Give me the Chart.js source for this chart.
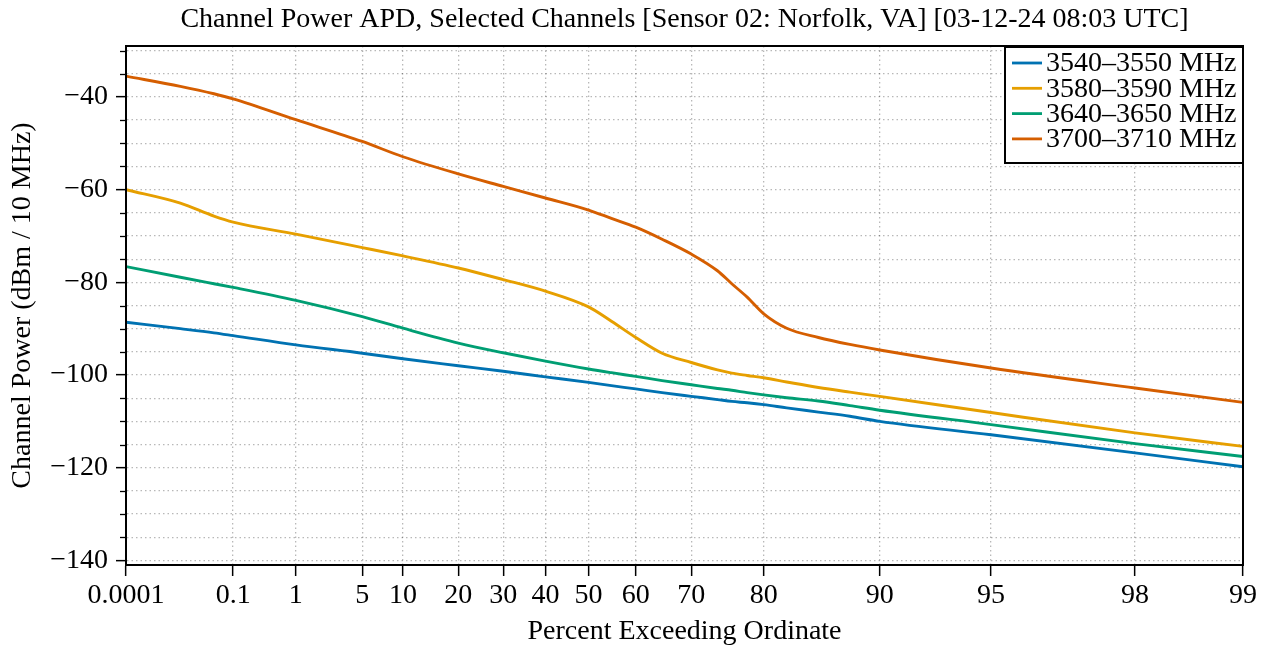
<!DOCTYPE html>
<html>
<head>
<meta charset="utf-8">
<script src="https://cdn.jsdelivr.net/npm/chart.js@4.4.1/dist/chart.umd.min.js"></script>
<style>
  html, body { margin: 0; padding: 0; background: #fff; }
</style>
</head>
<body>
<canvas id="apdChart" width="1267" height="648"></canvas>
<script>
// percent exceeding ordinate, shared by all four channels
const percentPoints = [0.0001, 0.006, 0.04, 0.1, 1, 5, 10, 20, 30, 40, 50, 55, 60, 65, 70, 74, 76, 78, 80, 82.5, 85.5, 88, 90, 95, 98, 99];

const channelLabels = ['3540\u20133550 MHz', '3580\u20133590 MHz', '3640\u20133650 MHz', '3700\u20133710 MHz'];
const channelColors = ['#0072B2', '#E69F00', '#009E73', '#D55E00'];

// channel power, dBm / 10 MHz
const power3540 = [-88.6, -90.0, -90.9, -91.5, -93.5, -95.3, -96.5, -98.0, -99.2, -100.4, -101.6, -102.3, -103.0, -103.8, -104.6, -105.3, -105.7, -106.0, -106.4, -107.1, -108.0, -108.9, -110.0, -112.9, -116.8, -119.8];
const power3580 = [-60.0, -62.9, -65.7, -67.0, -69.6, -72.5, -74.3, -76.9, -79.4, -81.9, -85.3, -88.4, -91.9, -95.3, -97.3, -98.9, -99.6, -100.1, -100.6, -101.5, -102.7, -103.7, -104.6, -108.1, -112.5, -115.4];
const power3640 = [-76.6, -78.9, -80.3, -81.1, -83.9, -87.4, -89.9, -93.1, -95.2, -97.0, -98.7, -99.5, -100.3, -101.2, -102.1, -102.9, -103.3, -103.8, -104.3, -104.9, -105.6, -106.6, -107.6, -110.7, -114.8, -117.6];
const power3700 = [-35.5, -37.7, -39.3, -40.4, -44.9, -49.6, -52.9, -56.6, -59.3, -61.8, -64.4, -66.2, -68.1, -70.7, -73.9, -77.5, -80.3, -83.2, -86.8, -89.9, -91.9, -93.4, -94.6, -98.5, -102.8, -105.9];

const tickPercents = [0.0001, 0.1, 1, 5, 10, 20, 30, 40, 50, 60, 70, 80, 90, 95, 98, 99];
const tickLabels = ['0.0001', '0.1', '1', '5', '10', '20', '30', '40', '50', '60', '70', '80', '90', '95', '98', '99'];
const yTickValues = [-140, -135, -130, -125, -120, -115, -110, -105, -100, -95, -90, -85, -80, -75, -70, -65, -60, -55, -50, -45, -40, -35, -30];

// rayleigh paper: linear in log10(-ln(p))
function rayleigh(p) {
    return -Math.log10(-Math.log(p / 100));
}

const serif = "'Liberation Serif', 'Times New Roman', serif";
const gridGrey = 'rgba(0,0,0,0.28)';

function toPoints(values) {
    return percentPoints.map((p, i) => ({ x: rayleigh(p), y: values[i] }));
}

const allSeries = [power3540, power3580, power3640, power3700];

// frame, minor ticks, title and legend
const decorations = {
    id: 'decorations',
    afterDraw(chart) {
        const ctx = chart.ctx;
        const a = chart.chartArea;
        const yScale = chart.scales.y;

        ctx.save();
        // minor y ticks
        ctx.strokeStyle = '#000';
        ctx.lineWidth = 1.3;
        yTickValues.forEach(v => {
            if (v % 20 === 0) return;
            const py = Math.round(yScale.getPixelForValue(v)) + 0.5;
            ctx.beginPath();
            ctx.moveTo(a.left - 6, py);
            ctx.lineTo(a.left, py);
            ctx.stroke();
        });

        // box round plot
        ctx.lineWidth = 2;
        ctx.strokeRect(a.left, a.top, a.right - a.left, a.bottom - a.top);

        // title
        ctx.fillStyle = '#000';
        ctx.font = '28px ' + serif;
        ctx.textAlign = 'center';
        ctx.textBaseline = 'middle';
        ctx.fillText('Channel Power APD, Selected Channels [Sensor 02: Norfolk, VA] [03-12-24 08:03 UTC]', (a.left + a.right) / 2, 20);

        // legend
        const w = 238, h = 116;
        const bx = a.right - w, by = a.top + 1;
        ctx.fillStyle = '#fff';
        ctx.fillRect(bx, by, w, h);
        ctx.lineWidth = 2;
        ctx.strokeStyle = '#000';
        ctx.strokeRect(bx, by, w, h);
        ctx.font = '28px ' + serif;
        ctx.textAlign = 'left';
        chart.data.datasets.forEach((ds, i) => {
            const ly = by + 16 + i * 25.3;
            ctx.strokeStyle = ds.borderColor;
            ctx.lineWidth = 2.8;
            ctx.beginPath();
            ctx.moveTo(bx + 7, ly);
            ctx.lineTo(bx + 37, ly);
            ctx.stroke();
            ctx.fillStyle = '#000';
            ctx.fillText(ds.label, bx + 41, ly + 1);
        });
        ctx.restore();
    }
};

var ctx = document.getElementById('apdChart').getContext('2d');

var apdChart = new Chart(ctx, {
    type: 'line',
    data: {
        datasets: allSeries.map((values, i) => ({
            label: channelLabels[i],
            data: toPoints(values),
            borderColor: channelColors[i],
            backgroundColor: channelColors[i],
            borderWidth: 2.9,
            pointRadius: 0,
            cubicInterpolationMode: 'monotone',
            fill: false
        }))
    },
    options: {
        responsive: false,
        animation: false,
        layout: { padding: { top: 46, right: 24, left: 0, bottom: 0 } },
        plugins: {
            legend: { display: false },
            title: { display: false },
            tooltip: { enabled: false }
        },
        scales: {
            x: {
                type: 'linear',
                min: rayleigh(0.0001),
                max: rayleigh(99),
                afterBuildTicks: function (scale) {
                    scale.ticks = tickPercents.map(p => ({ value: rayleigh(p) }));
                },
                afterFit: function (scale) { scale.height = 83; },
                ticks: {
                    autoSkip: false,
                    maxRotation: 0,
                    padding: 3,
                    color: '#000',
                    font: { family: serif, size: 28 },
                    callback: function (value, index) { return tickLabels[index]; }
                },
                grid: {
                    color: gridGrey,
                    lineWidth: 1.3,
                    tickColor: '#000',
                    tickWidth: 1.5,
                    tickLength: 11
                },
                border: { color: '#000', width: 2, dash: [1.5, 3] },
                title: {
                    display: true,
                    text: 'Percent Exceeding Ordinate',
                    color: '#000',
                    font: { family: serif, size: 28 },
                    padding: { top: 0, bottom: 0 }
                }
            },
            y: {
                type: 'linear',
                min: -141,
                max: -29,
                afterBuildTicks: function (scale) {
                    scale.ticks = yTickValues.map(v => ({ value: v }));
                },
                afterFit: function (scale) { scale.width = 126; },
                ticks: {
                    autoSkip: false,
                    padding: 8,
                    color: '#000',
                    font: { family: serif, size: 28 },
                    callback: function (value) {
                        return value % 20 === 0 ? '\u2212' + Math.abs(value) : '';
                    }
                },
                grid: {
                    color: gridGrey,
                    lineWidth: 1.3,
                    tickColor: c => (c.tick && c.tick.value % 20 === 0) ? '#000' : 'rgba(0,0,0,0)',
                    tickWidth: 1.5,
                    tickLength: 10
                },
                border: { color: '#000', width: 2, dash: [1.5, 3] },
                title: {
                    display: true,
                    text: 'Channel Power (dBm / 10 MHz)',
                    color: '#000',
                    font: { family: serif, size: 28 },
                    padding: { top: 6, bottom: 0 }
                }
            }
        }
    },
    plugins: [decorations]
});
</script>
</body>
</html>
